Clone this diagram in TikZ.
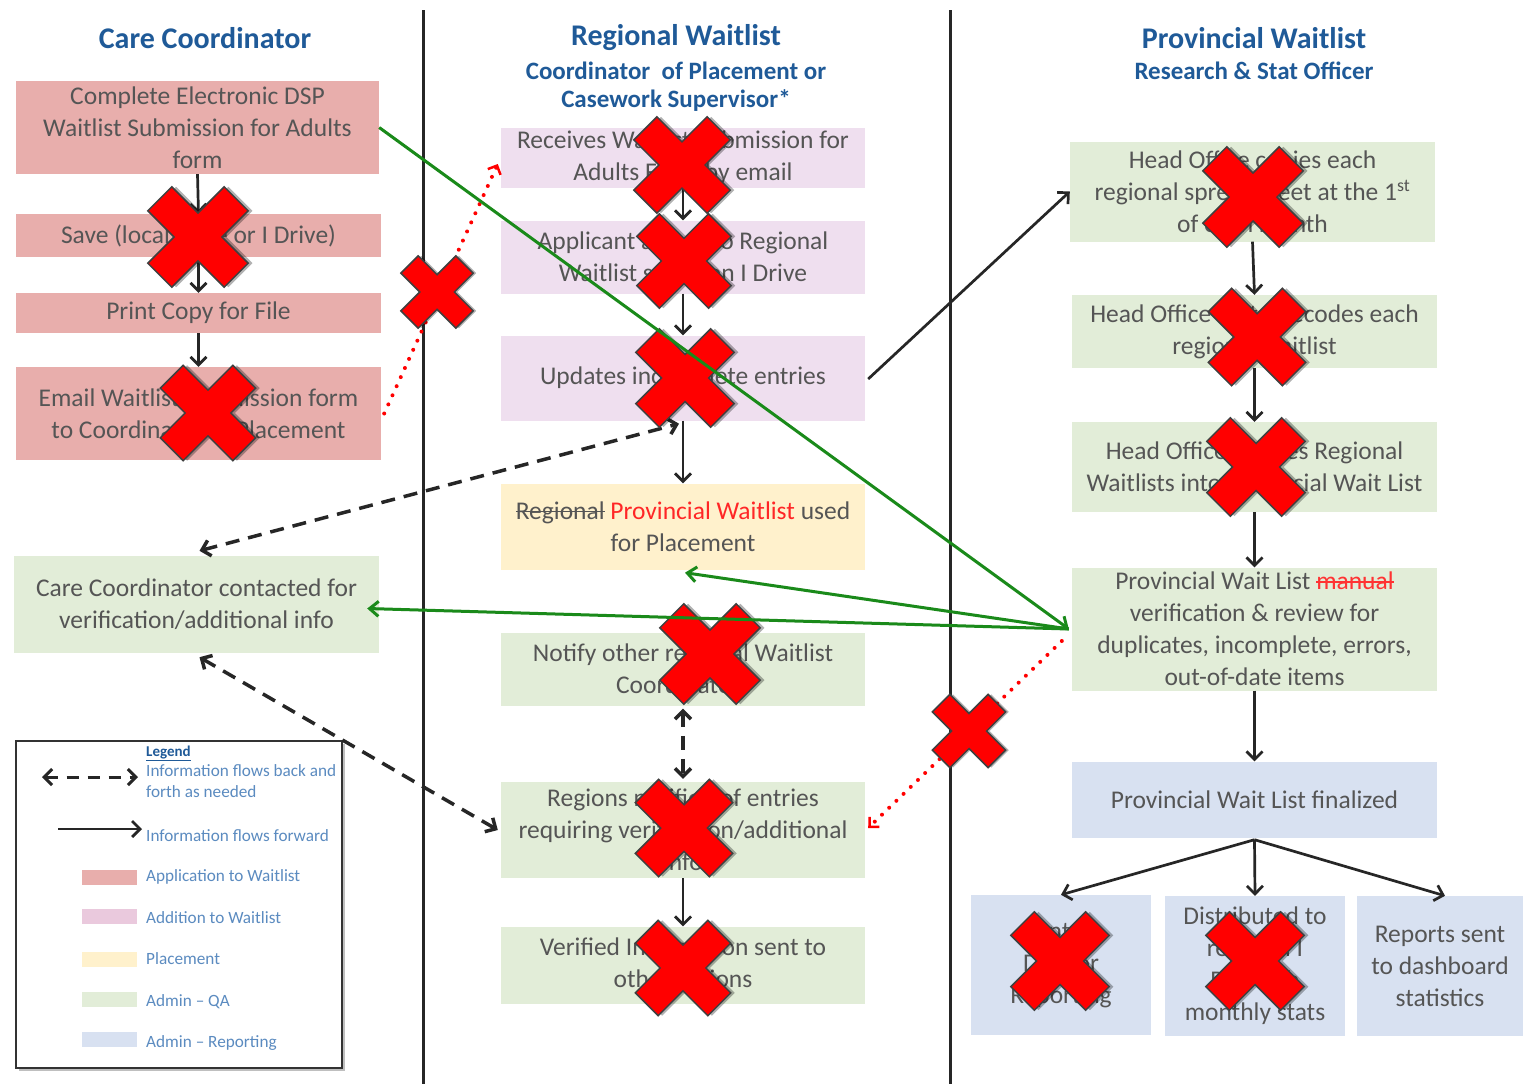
\documentclass[tikz,border=0pt]{standalone}
\usepackage{fontspec}
\setmainfont{Carlito}
\usetikzlibrary{arrows.meta,calc}
\definecolor{pinkb}{HTML}{E8AEAC}
\definecolor{lavb}{HTML}{EFDFEF}
\definecolor{yelb}{HTML}{FFF1CC}
\definecolor{grnb}{HTML}{E2EDD8}
\definecolor{blub}{HTML}{D8E1F1}
\definecolor{hdrblue}{HTML}{1F5A98}
\definecolor{lgblue}{HTML}{5B8BC0}
\definecolor{txtgray}{HTML}{555555}
\definecolor{lnblack}{HTML}{262626}
\definecolor{grnline}{HTML}{1A8A1A}
\newcommand{\mystrike}[1]{\leavevmode\setbox0\hbox{#1}\rlap{\raisebox{0.28em}{\rule{\wd0}{1.5pt}}}\box0\relax}
\newcommand{\xpathpoly}{(54,17) -- (54,-17) -- (17,-17) -- (17,-54) -- (-17,-54) -- (-17,-17) -- (-54,-17) -- (-54,17) -- (-17,17) -- (-17,54) -- (17,54) -- (17,17) -- cycle}
\tikzset{
  redx/.pic={
    \fill[black,opacity=0.3,rotate=45,shift={(3,3)}] \xpathpoly;
    \filldraw[fill=red,draw=black!75,line width=1.5pt,rotate=45] \xpathpoly;
  },
  bx/.style={inner sep=0pt,align=center,text=txtgray,font=\fontsize{25.5}{32}\selectfont},
  hdr/.style={inner sep=0pt,text=hdrblue,font=\fontsize{30}{34}\selectfont\bfseries},
  subhdr/.style={inner sep=0pt,text=hdrblue,font=\fontsize{25}{30}\selectfont\bfseries},
  lgt/.style={inner sep=0pt,text=lgblue,font=\fontsize{17.2}{21}\selectfont,align=left},
  sw/.style={inner sep=0pt,minimum width=55pt,minimum height=15pt},
  arr/.style={draw=lnblack,line width=2.7pt,-{Straight Barb[length=8pt,width=16pt]}},
  darr/.style={draw=lnblack,line width=3.5pt,dash pattern=on 14pt off 9pt,{Straight Barb[length=8pt,width=16pt]}-{Straight Barb[length=8pt,width=16pt]}},
  rdot/.style={draw=red,line width=4pt,dash pattern=on 0pt off 10pt,line cap=round,-{Straight Barb[length=7pt,width=14pt,line width=2.5pt]}},
  grn/.style={draw=grnline,line width=3pt,-{Straight Barb[length=9pt,width=15pt]}},
}
\begin{document}
\begin{tikzpicture}[x=1pt,y=-1pt]
\useasboundingbox (0,0) rectangle (1523,1084);
\fill[white] (0,0) rectangle (1523,1084);

% lane separators
\coordinate (v1a) at (423,10); \coordinate (v1b) at (423,1084);
\coordinate (v2a) at (950,10); \coordinate (v2b) at (950,1084);
\draw[lnblack,line width=3pt] (v1a) -- (v1b);
\draw[lnblack,line width=3pt] (v2a) -- (v2b);

% headers
\node[hdr] (h1) at (205,38) {Care Coordinator};
\node[hdr] (h2) at (676,38) {Regional Waitlist};
\node[subhdr] (h2a) at (676,71) {Coordinator\ \ of Placement or};
\node[subhdr] (h2b) at (676,101) {Casework Supervisor*};
\node[hdr] (h3) at (1254,38) {Provincial Waitlist};
\node[subhdr] (h3a) at (1254,71) {Research \& Stat Officer};

% left column
\node[bx,fill=pinkb,minimum width=363pt,minimum height=93pt] (A1) at (197.5,127.5) {Complete Electronic DSP\\Waitlist Submission for Adults\\form};
\node[bx,fill=pinkb,minimum width=365pt,minimum height=43pt] (A2) at (198.5,235.5) {Save (local drive or I Drive)};
\node[bx,fill=pinkb,minimum width=365pt,minimum height=40pt] (A3) at (198.5,313) {Print Copy for File};
\node[bx,fill=pinkb,minimum width=365pt,minimum height=93pt] (A4) at (198.5,413.5) {Email Waitlist Submission form\\to Coordinator of Placement};
\node[bx,fill=grnb,minimum width=365pt,minimum height=97pt] (C1) at (196.5,604.5) {Care Coordinator contacted for\\verification/additional info};

% middle column
\node[bx,fill=lavb,minimum width=364pt,minimum height=60pt] (B1) at (683,158) {Receives Waitlist Submission for\\Adults Form by email};
\node[bx,fill=lavb,minimum width=364pt,minimum height=73pt] (B2) at (683,257) {Applicant added to Regional\\Waitlist saved on I Drive};
\node[bx,fill=lavb,minimum width=364pt,minimum height=85pt] (B3) at (683,378) {Updates incomplete entries};
\node[bx,fill=yelb,minimum width=364pt,minimum height=86pt] (B4) at (683,526.5) {\mystrike{Regional} \textcolor{red!85!white}{Provincial Waitlist} used\\for Placement};
\node[bx,fill=grnb,minimum width=364pt,minimum height=73pt] (B5) at (683,669) {Notify other regional Waitlist\\Coordinators};
\node[bx,fill=grnb,minimum width=364pt,minimum height=96pt] (B6) at (683,830) {Regions notified of entries\\requiring verification/additional\\info};
\node[bx,fill=grnb,minimum width=364pt,minimum height=77pt] (B7) at (683,965) {Verified Information sent to\\other regions};

% right column
\node[bx,fill=grnb,minimum width=365pt,minimum height=100pt] (D1) at (1252.5,191.5) {Head Office copies each\\regional spreadsheet at the 1\textsuperscript{st}\\of each month};
\node[bx,fill=grnb,minimum width=365pt,minimum height=73pt] (D2) at (1254.5,331.5) {Head Office sorts/decodes each\\regional waitlist};
\node[bx,fill=grnb,minimum width=365pt,minimum height=90pt] (D3) at (1254.5,467) {Head Office merges Regional\\Waitlists into Provincial Wait List};
\node[bx,fill=grnb,minimum width=365pt,minimum height=123pt] (D4) at (1254.5,629) {Provincial Wait List \textcolor{red!80!white}{\mystrike{manual}}\\verification \& review for\\duplicates, incomplete, errors,\\out-of-date items};
\node[bx,fill=blub,minimum width=365pt,minimum height=76pt] (D5) at (1254.5,799.5) {Provincial Wait List finalized};
\node[bx,fill=blub,minimum width=180pt,minimum height=140pt] (E1) at (1061,965) {Sent to\\DSP for\\Reporting};
\node[bx,fill=blub,minimum width=180pt,minimum height=140pt] (E2) at (1255,966) {Distributed to\\regional I\\BSS with\\monthly stats};
\node[bx,fill=blub,minimum width=166pt,minimum height=140pt] (E3) at (1440,966) {Reports sent\\to dashboard\\statistics};

% legend
\fill[black,opacity=0.25] (19,744) rectangle (345,1071);
\node[draw=black!80,fill=white,line width=2pt,minimum width=326pt,minimum height=327pt,inner sep=0pt] (L) at (179,904.5) {};
\node[lgt,anchor=west,text=hdrblue,font=\fontsize{15}{18}\selectfont\bfseries] (Lt) at (146,753) {\underline{Legend}};
\coordinate (l1a) at (42,777); \coordinate (l1b) at (138,777);
\draw[darr,line width=3pt,dash pattern=on 12pt off 9pt] (l1a) -- (l1b);
\node[lgt,anchor=north west] (l1t) at (146,764) {Information flows back and\\forth as needed};
\coordinate (l2a) at (58,829); \coordinate (l2b) at (142,829);
\draw[arr] (l2a) -- (l2b);
\node[lgt,anchor=west] (l2t) at (146,836) {Information flows forward};
\node[sw,fill=pinkb] (s1) at (109.5,877) {};
\node[lgt,anchor=west] (s1t) at (146,877) {Application to Waitlist};
\node[sw,fill=lavb!90!purple] (s2) at (109.5,916) {};
\node[lgt,anchor=west] (s2t) at (146,918) {Addition to Waitlist};
\node[sw,fill=yelb] (s3) at (109.5,959) {};
\node[lgt,anchor=west] (s3t) at (146,959) {Placement};
\node[sw,fill=grnb] (s4) at (109.5,999) {};
\node[lgt,anchor=west] (s4t) at (146,1002) {Admin -- QA};
\node[sw,fill=blub] (s5) at (109.5,1039) {};
\node[lgt,anchor=west] (s5t) at (146,1043) {Admin -- Reporting};

% black arrows
\draw[arr] (A1.south) -- (A2.north);
\draw[arr] (A2.south) -- (A3.north);
\draw[arr] (A3.south) -- (A4.north);
\draw[arr] (B1.south) -- (B2.north);
\draw[arr] (B2.south) -- (B3.north);
\draw[arr] (B3.south) -- (B4.north);
\draw[arr] (B6.south) -- (B7.north);
\draw[arr] ($(B3.east)+(3,1)$) -- (D1.west);
\draw[arr] (D1.south) -- (D2.north);
\draw[arr] (D2.south) -- (D3.north);
\draw[arr] (D3.south) -- (D4.north);
\draw[arr] (D4.south) -- (D5.north);
\draw[arr] ($(D5.south)+(0,2)$) -- (E1.north);
\draw[arr] ($(D5.south)+(0,2)$) -- (E2.north);
\draw[arr] ($(D5.south)+(0,2)$) -- ($(E3.north)+(5,0)$);

% dashed two-way arrows
\draw[darr] ($(C1.north)+(3,-5)$) -- ($(B3.south)+(-4,3)$);
\draw[darr] ($(C1.south)+(3,4)$) -- ($(B6.west)+(-3,0)$);
\draw[darr] ($(B5.south)+(0,3)$) -- ($(B6.north)+(0,-3)$);

% red dotted arrows
\draw[rdot] ($(A4.east)+(3,0)$) -- ($(B1.west)+(-3,6)$);
\draw[rdot] ($(D4.west)+(-10,12)$) -- ($(B6.east)+(3,-2)$);

% red crosses
\pic[scale=1.0] at (198,237) {redx};
\pic[scale=0.95] at (208,413) {redx};
\pic[scale=0.72] at (437,292) {redx};
\pic[scale=0.96] at (682,165) {redx};
\pic[scale=0.94] at (684,261) {redx};
\pic[scale=0.98] at (685,378) {redx};
\pic[scale=1.0] at (710,654) {redx};
\pic[scale=0.97] at (684,828) {redx};
\pic[scale=0.95] at (683,968) {redx};
\pic[scale=1.0] at (1253,197) {redx};
\pic[scale=0.97] at (1257,337) {redx};
\pic[scale=0.98] at (1256,467) {redx};
\pic[scale=0.73] at (969,731) {redx};
\pic[scale=0.98] at (1060,961) {redx};
\pic[scale=0.98] at (1255,961) {redx};

% green arrows
\coordinate (gj) at ($(D4.west)+(-3,0)$);
\draw[grn] (A1.east) -- (gj);
\draw[grn] (gj) -- ($(C1.east)+(-12,4)$);
\draw[grn] (gj) -- ($(B4.south)+(2,3)$);
\end{tikzpicture}
\end{document}
